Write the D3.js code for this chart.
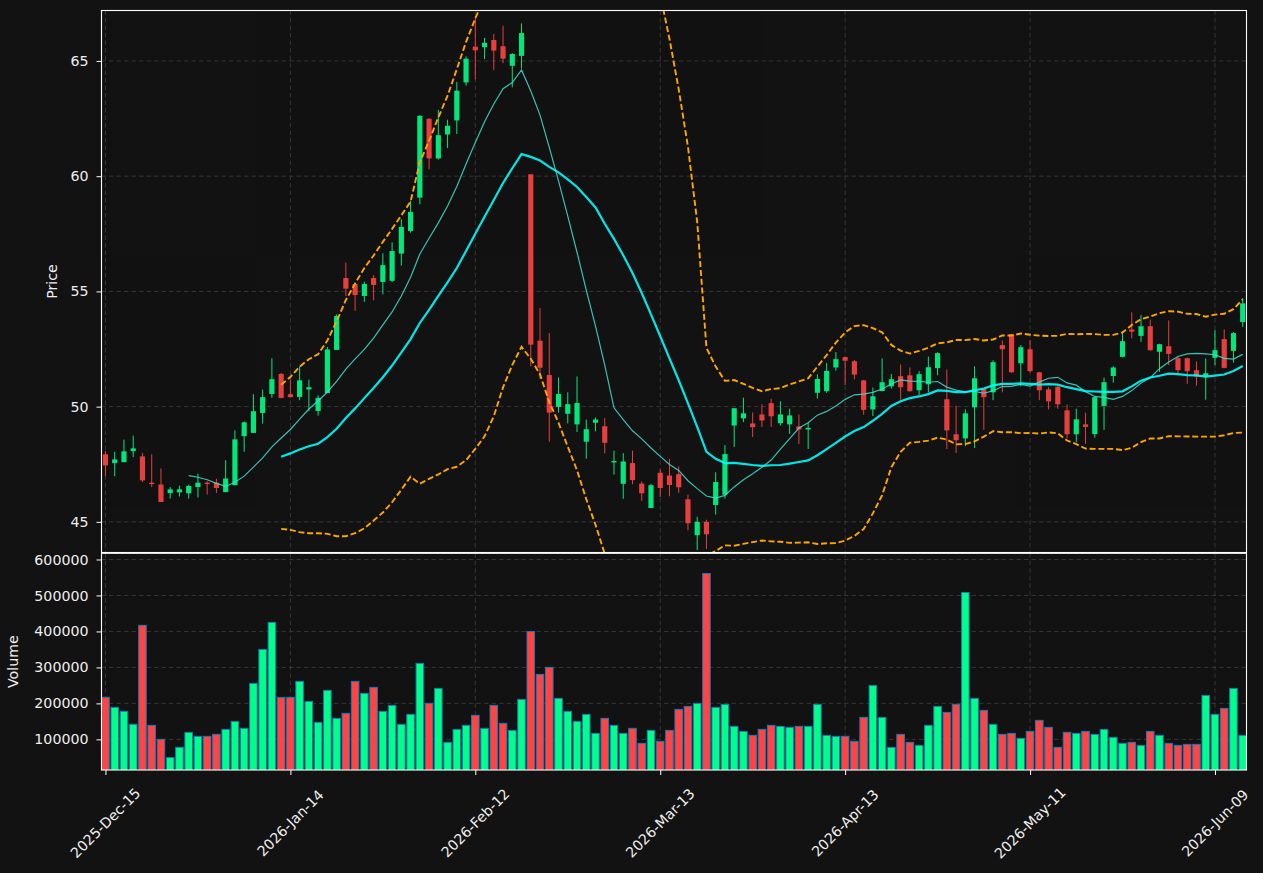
<!DOCTYPE html>
<html>
<head>
<meta charset="utf-8">
<script src="https://cdn.jsdelivr.net/npm/d3@7"></script>
<style>
  html, body { margin: 0; padding: 0; background: #121212; }
  svg { display: block; font-family: "DejaVu Sans", sans-serif; }
</style>
</head>
<body>
<svg id="chart" width="1263" height="873"></svg>
<script>
// OHLC + volume, one entry per session (index 0..123)
const opens = [47.93,47.55,47.59,48.07,47.84,46.70,46.62,46.25,46.28,46.24,
  46.51,46.70,46.70,46.29,46.59,48.72,48.86,49.72,50.55,51.42,
  50.54,50.42,50.75,49.81,50.59,52.46,55.58,55.32,54.80,55.58,
  55.41,55.46,56.64,57.62,59.07,62.49,60.77,61.81,62.42,64.07,
  65.62,65.60,65.91,65.64,64.79,65.22,60.08,52.86,51.37,49.99,
  49.69,49.23,48.48,49.30,49.15,47.58,46.65,47.55,46.66,45.60,
  47.13,47.01,47.07,45.98,44.42,45.00,45.73,46.18,49.18,49.49,
  49.27,49.66,50.15,49.28,49.23,49.14,49.01,50.60,50.67,51.70,
  52.15,51.97,51.14,49.88,50.68,50.88,51.32,51.36,50.71,50.97,
  51.67,50.32,48.80,48.62,49.97,50.75,50.62,52.67,53.14,51.88,
  52.49,51.49,50.75,50.86,49.84,48.80,49.23,48.81,50.03,51.33,
  52.16,53.35,53.07,53.49,52.38,52.62,52.10,52.10,51.58,51.33,
  52.12,52.93,52.42,53.67];
const highs = [48.07,48.04,48.57,48.74,48.00,47.93,47.32,46.51,46.57,46.62,
  47.09,46.76,46.87,47.67,48.97,49.36,50.54,50.74,52.10,51.46,
  51.17,51.75,51.17,50.49,52.59,54.00,56.26,55.36,55.42,55.71,
  56.65,57.13,58.13,58.94,62.65,62.52,62.88,62.45,64.09,65.20,
  66.94,66.00,66.17,66.53,65.34,66.63,60.10,54.28,53.19,51.27,
  50.62,51.31,49.44,49.53,49.51,48.09,47.98,48.09,46.75,46.65,
  47.28,47.73,47.40,46.18,45.22,45.09,47.15,48.33,49.93,50.39,
  49.75,50.10,50.34,50.23,49.91,49.66,49.30,51.40,51.89,52.37,
  52.17,52.02,51.16,50.83,52.09,51.41,51.83,51.70,51.54,52.17,
  52.36,51.61,50.04,49.88,51.75,50.77,52.01,52.87,53.16,52.67,
  52.88,51.51,50.84,50.91,50.09,49.91,49.74,50.43,51.26,51.75,
  53.28,54.09,53.97,53.78,52.73,53.74,52.19,52.12,51.96,52.09,
  53.32,53.35,53.23,54.71];
const lows = [46.98,46.98,47.59,47.81,46.72,46.51,45.86,46.01,46.10,46.01,
  46.06,46.19,46.25,46.29,46.59,48.04,48.86,49.26,50.38,50.36,
  50.41,50.28,49.80,49.61,50.59,52.46,54.80,54.16,54.55,54.61,
  54.87,55.40,56.12,57.55,58.78,60.30,60.72,61.22,61.83,63.93,
  64.20,65.08,64.60,64.90,63.86,64.67,51.75,51.21,48.48,49.74,
  49.27,48.90,47.74,48.93,47.97,47.05,46.00,46.63,45.91,45.60,
  46.08,46.11,46.26,44.63,43.77,43.82,45.31,46.01,48.25,49.33,
  48.68,49.11,49.12,49.18,48.82,48.38,48.16,50.35,50.60,51.56,
  50.94,51.18,49.65,49.59,50.66,50.78,50.30,50.65,50.49,50.62,
  51.36,48.16,47.99,48.28,48.20,48.99,50.28,50.62,51.47,50.88,
  51.49,50.28,49.88,49.91,48.61,48.45,48.39,48.65,48.99,51.04,
  52.14,52.96,52.81,52.42,51.51,51.80,51.35,50.99,50.91,50.30,
  51.80,51.66,51.91,53.46];
const closes = [47.45,47.71,48.06,48.19,46.80,46.64,45.86,46.41,46.41,46.56,
  46.70,46.64,46.47,46.88,48.58,49.32,49.80,50.41,51.19,50.38,
  50.41,51.14,50.84,50.38,52.48,53.93,55.12,54.84,55.32,55.28,
  56.14,56.75,57.80,58.45,62.62,60.77,61.78,62.19,63.71,65.10,
  65.46,65.79,65.45,65.10,65.30,66.21,52.69,51.69,49.74,50.55,
  50.11,50.16,49.02,49.44,48.43,47.64,47.62,46.81,46.24,46.59,
  46.47,46.60,46.50,44.94,45.00,44.46,46.73,47.94,49.93,49.71,
  49.11,49.40,49.58,49.66,49.62,49.01,49.08,51.20,51.55,52.06,
  51.99,51.39,49.86,50.45,51.06,51.19,50.84,50.67,51.41,51.71,
  52.32,48.97,48.54,49.71,51.23,50.41,51.93,52.49,51.49,52.58,
  51.54,50.71,50.23,50.10,48.80,49.45,49.12,50.41,51.06,51.70,
  52.84,53.25,53.49,52.45,52.71,52.29,51.58,51.54,51.30,51.45,
  52.45,51.68,53.19,54.48];
const volumes = [217000,189000,178000,142000,417000,139000,100000,49400,78000,119500,
  108400,108400,114000,127800,150000,130600,255600,350000,425000,216700,
  216700,261200,205600,147300,236100,158400,172300,261200,227800,244500,
  177900,194500,141700,169500,311200,200000,241700,91700,127800,139000,
  166700,130600,194500,144500,125000,211100,400000,280600,300000,213900,
  177900,150000,169500,116700,158400,139000,116700,130600,88900,125000,
  94500,125000,183300,191700,200000,561100,188900,197300,136100,122200,
  111200,127800,139000,136100,133400,136100,136100,197300,111200,108400,
  108400,94500,161100,250000,161100,77800,113900,91700,83300,139000,
  191700,175000,197300,508300,213900,180600,141700,113900,116700,102800,
  122200,152800,133400,77800,119500,116700,122200,113900,127800,105600,
  88900,91700,83300,122200,111200,88900,83300,86100,86100,222200,
  169500,186100,241700,111200];

const tickIndex = [0, 20, 40, 60, 80, 100, 120];
const tickLabels = ["2025-Dec-15", "2026-Jan-14", "2026-Feb-12", "2026-Mar-13",
  "2026-Apr-13", "2026-May-11", "2026-Jun-09"];
const priceTicks = [45, 50, 55, 60, 65];
const volumeTicks = [100000, 200000, 300000, 400000, 500000, 600000];

const UP = "#00ff88", DOWN = "#ff4444";
const BG = "#121212", GRID = "#3a3a3a", FG = "#eeeeee";
const FONT = "14.2px";

// panel geometry
const left = 101.5, right = 1246.5;
const pTop = 10.5, pBot = 552.5, vTop = 553.3, vBot = 770;
const n = closes.length;

const x = d3.scaleLinear().domain([-0.43, n - 1 + 0.41]).range([left, right]);
const yP = d3.scaleLinear().domain([43.67, 67.19]).range([pBot, pTop]);
const yV = d3.scaleLinear()
  .domain([0.3 * d3.min(volumes), 1.1 * d3.max(volumes)])
  .range([vBot, vTop]);

// indicators from closes
function rolling(len, fn) {
  return closes.map((_, i) => (i < len - 1 ? null : fn(closes.slice(i - len + 1, i + 1))));
}
const ma10 = rolling(10, (w) => d3.mean(w));
const ma20 = rolling(20, (w) => d3.mean(w));
const sd20 = rolling(20, (w) => { const m = d3.mean(w); return Math.sqrt(d3.mean(w, (v) => (v - m) ** 2)); });
const bbUpper = ma20.map((m, i) => (m == null ? null : m + 2 * sd20[i]));
const bbLower = ma20.map((m, i) => (m == null ? null : m - 2 * sd20[i]));

const svg = d3.select("#chart");
svg.append("rect").attr("width", 1263).attr("height", 873).attr("fill", BG);

const defs = svg.append("defs");
defs.append("clipPath").attr("id", "clipP").append("rect")
  .attr("x", left).attr("y", pTop).attr("width", right - left).attr("height", pBot - pTop);
defs.append("clipPath").attr("id", "clipV").append("rect")
  .attr("x", left).attr("y", vTop).attr("width", right - left).attr("height", vBot - vTop);

// grid
function grid(yScale, ticks, top, bot) {
  const g = svg.append("g").attr("stroke", GRID).attr("stroke-width", 0.9)
    .attr("stroke-dasharray", "4.5,3").attr("fill", "none");
  ticks.forEach((t) => g.append("line").attr("x1", left).attr("x2", right)
    .attr("y1", yScale(t)).attr("y2", yScale(t)));
  tickIndex.forEach((t) => g.append("line").attr("x1", x(t)).attr("x2", x(t))
    .attr("y1", top).attr("y2", bot));
}
grid(yP, priceTicks, pTop, pBot);
grid(yV, volumeTicks, vTop, vBot);

// candles
const idx = d3.range(n);
const color = (i) => (closes[i] >= opens[i] ? UP : DOWN);
const bodyW = 0.56 * (x(1) - x(0));
const candles = svg.append("g").attr("clip-path", "url(#clipP)").attr("opacity", 0.9);
candles.selectAll("line.wick").data(idx).join("line").attr("class", "wick")
  .attr("x1", (i) => x(i)).attr("x2", (i) => x(i))
  .attr("y1", (i) => yP(highs[i])).attr("y2", (i) => yP(lows[i]))
  .attr("stroke", color).attr("stroke-width", 1);
candles.selectAll("rect.body").data(idx).join("rect").attr("class", "body")
  .attr("x", (i) => x(i) - bodyW / 2).attr("width", bodyW)
  .attr("y", (i) => yP(Math.max(opens[i], closes[i])))
  .attr("height", (i) => Math.max(1, Math.abs(yP(opens[i]) - yP(closes[i]))))
  .attr("fill", color);

// indicator lines
const lineOf = (arr) => d3.line().defined((i) => arr[i] != null).x((i) => x(i)).y((i) => yP(arr[i]))(idx);
const lines = svg.append("g").attr("clip-path", "url(#clipP)").attr("fill", "none");
lines.append("path").attr("d", lineOf(ma10)).attr("stroke", "#40e0d0").attr("stroke-width", 1.2).attr("opacity", 0.85);
lines.append("path").attr("d", lineOf(ma20)).attr("stroke", "#00ffff").attr("stroke-width", 2.2).attr("opacity", 0.9);
[bbUpper, bbLower].forEach((b) => lines.append("path").attr("d", lineOf(b))
  .attr("stroke", "#ffa500").attr("stroke-width", 1.9).attr("stroke-dasharray", "6,2.8"));

// volume bars
const volW = 0.82 * (x(1) - x(0));
svg.append("g").attr("clip-path", "url(#clipV)")
  .selectAll("rect").data(idx).join("rect")
  .attr("x", (i) => x(i) - volW / 2).attr("width", volW)
  .attr("y", (i) => yV(volumes[i])).attr("height", (i) => vBot - yV(volumes[i]) + 2)
  .attr("fill", color).attr("stroke", "#1f77b4").attr("stroke-width", 1);

// axes
function styleAxis(g) {
  g.select(".domain").remove();
  g.selectAll(".tick line").attr("stroke", "#ffffff").attr("stroke-width", 1);
  g.selectAll(".tick text").attr("fill", FG).style("font-size", FONT)
    .style("font-family", '"DejaVu Sans", sans-serif');
}
svg.append("g").attr("transform", `translate(${left},0)`)
  .call(d3.axisLeft(yP).tickValues(priceTicks).tickSize(5).tickPadding(8).tickFormat(d3.format("d")))
  .call(styleAxis);
svg.append("g").attr("transform", `translate(${left},0)`)
  .call(d3.axisLeft(yV).tickValues(volumeTicks).tickSize(5).tickPadding(8).tickFormat(d3.format("d")))
  .call(styleAxis);
const xAxis = svg.append("g").attr("transform", `translate(0,${vBot})`)
  .call(d3.axisBottom(x).tickValues(tickIndex).tickSize(5).tickFormat(""))
  .call(styleAxis);
xAxis.selectAll(".tick text").remove();

svg.append("g").selectAll("text").data(tickIndex).join("text")
  .attr("transform", (t) => `translate(${x(t)},823) rotate(-45)`)
  .attr("text-anchor", "middle").attr("dominant-baseline", "central")
  .attr("fill", FG).style("font-size", FONT)
  .text((t, k) => tickLabels[k]);

// spines
const spines = svg.append("g").attr("fill", "none").attr("stroke", "#ffffff").attr("stroke-width", 1.1);
spines.append("rect").attr("x", left).attr("y", pTop).attr("width", right - left).attr("height", pBot - pTop);
spines.append("rect").attr("x", left).attr("y", vTop).attr("width", right - left).attr("height", vBot - vTop);

// axis titles
svg.append("text").attr("transform", `translate(57,${(pTop + pBot) / 2}) rotate(-90)`)
  .attr("text-anchor", "middle").attr("fill", FG).style("font-size", FONT).text("Price");
svg.append("text").attr("transform", `translate(18,${(vTop + vBot) / 2}) rotate(-90)`)
  .attr("text-anchor", "middle").attr("fill", FG).style("font-size", FONT).text("Volume");
</script>
</body>
</html>
